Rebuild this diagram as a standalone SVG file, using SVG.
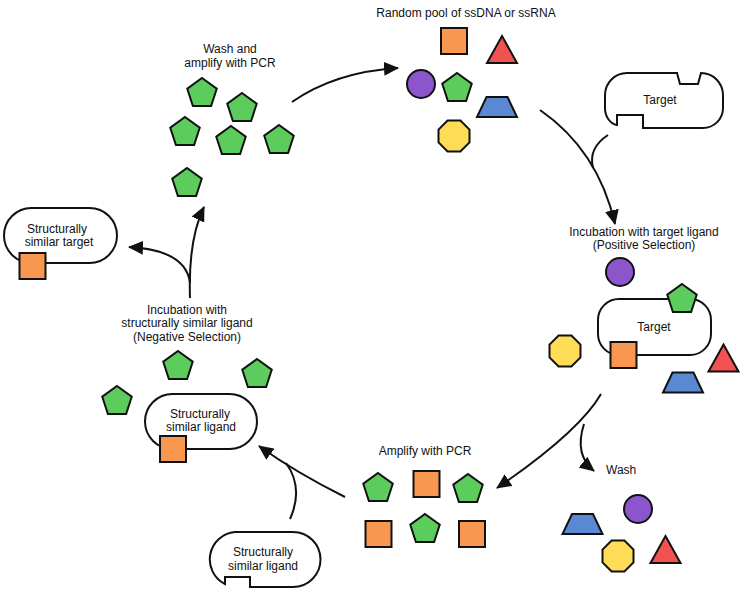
<svg xmlns="http://www.w3.org/2000/svg" xmlns:xlink="http://www.w3.org/1999/xlink" width="746" height="593" viewBox="0 0 746 593">
<style>
text{font-family:"Liberation Sans",Arial,sans-serif;font-size:12px;fill:#111;text-anchor:middle}
.sh{stroke:#111;stroke-width:2;stroke-linejoin:miter}
.box{fill:#fff;stroke:#111;stroke-width:2}
.or{fill:#F89850}.rd{fill:#F25252}.pu{fill:#8C55CC}.gr{fill:#5CCD5C}.bl{fill:#5A88D2}.ye{fill:#FFDC55}
.con{fill:none;stroke:#111;stroke-width:2}
</style>
<defs>
<path id="pent" d="M0,-14 L14.74,-3.31 L9.11,14.02 L-9.11,14.02 L-14.74,-3.31 Z"/>
<path id="oct" d="M6.4,-15.5 L15.5,-6.4 L15.5,6.4 L6.4,15.5 L-6.4,15.5 L-15.5,6.4 L-15.5,-6.4 L-6.4,-15.5 Z"/>
<path id="tri" d="M0,-13.5 L15,13.5 L-15,13.5 Z"/>
<path id="trap" d="M-10.5,-10 L10.5,-10 L20,10 L-20,10 Z"/>
<rect id="sq" x="-13" y="-13" width="26" height="26"/>
<circle id="circ" r="14"/>
<marker id="arr" markerUnits="userSpaceOnUse" markerWidth="16" markerHeight="14" refX="14" refY="7" orient="auto">
<path d="M0,0 L15,7 L0,14 Z" fill="#111"/>
</marker>
</defs>

<g id="connectors">
<path class="con" d="M292,102 Q335,72 398,68" marker-end="url(#arr)"/>
<path class="con" d="M540,110 Q598,150 615,224" marker-end="url(#arr)"/>
<path class="con" d="M608,135 Q588,148 593,168"/>
<path class="con" d="M601,394 Q579,432 497,488" marker-end="url(#arr)"/>
<path class="con" d="M584,424 Q574,455 594,471" marker-end="url(#arr)"/>
<path class="con" d="M345,497 Q295,472 259,446" marker-end="url(#arr)"/>
<path class="con" d="M290,519 Q304,488 286,463"/>
<path class="con" d="M190,298 Q188,240 204,207" marker-end="url(#arr)"/>
<path class="con" d="M190,283 Q186,250 129,247" marker-end="url(#arr)"/>
</g>

<g id="random-pool">
<text x="466" y="17">Random pool of ssDNA or ssRNA</text>
<use href="#sq" class="sh or" x="454" y="41"/>
<use href="#tri" class="sh rd" x="502" y="49.5"/>
<use href="#circ" class="sh pu" x="421" y="84"/>
<use href="#pent" class="sh gr" x="457" y="87"/>
<use href="#trap" class="sh bl" x="497" y="107"/>
<use href="#oct" class="sh ye" x="454" y="136"/>
</g>

<g id="target-top">
<path class="box" d="M627,73 L677,73 L680,84 L698,84 L701,73 A22,22 0 0 1 723,95 L723,108 A20,20 0 0 1 703,128 L643,128 L643,115 L617,115 L617,125 A14,17 0 0 1 605,108 L605,95 A22,22 0 0 1 627,73 Z"/>
<text x="660" y="104">Target</text>
</g>

<g id="positive-selection">
<text x="644" y="236">Incubation with target ligand</text>
<text x="644" y="249">(Positive Selection)</text>
<use href="#circ" class="sh pu" x="620" y="272"/>
<rect class="box" x="598" y="299" width="113" height="56" rx="21"/>
<text x="654" y="331">Target</text>
<use href="#pent" class="sh gr" x="682" y="298"/>
<use href="#oct" class="sh ye" x="565" y="351"/>
<use href="#sq" class="sh or" x="623.5" y="355"/>
<use href="#tri" class="sh rd" x="723.5" y="358"/>
<use href="#trap" class="sh bl" x="683" y="382.5"/>
</g>

<g id="wash">
<text x="606" y="474" style="text-anchor:start">Wash</text>
<use href="#circ" class="sh pu" x="638" y="509"/>
<use href="#trap" class="sh bl" x="582.5" y="524"/>
<use href="#oct" class="sh ye" x="618" y="556"/>
<use href="#tri" class="sh rd" x="665.5" y="549.5"/>
</g>

<g id="amplify">
<text x="425" y="455">Amplify with PCR</text>
<use href="#pent" class="sh gr" x="378" y="487"/>
<use href="#sq" class="sh or" x="426.5" y="484"/>
<use href="#pent" class="sh gr" x="468" y="488"/>
<use href="#sq" class="sh or" x="378.5" y="534"/>
<use href="#pent" class="sh gr" x="425" y="528"/>
<use href="#sq" class="sh or" x="472" y="534"/>
</g>

<g id="ligand-bottom">
<path class="box" d="M235,532 L293,532 A27.5,27.5 0 0 1 293,587 L250,587 L250,577 L225,577 L225,584 A27.5,27.5 0 0 1 235,532 Z"/>
<text x="263" y="556">Structurally</text>
<text x="263" y="570">similar ligand</text>
</g>

<g id="negative-selection">
<text x="187" y="314">Incubation with</text>
<text x="187" y="327">structurally similar ligand</text>
<text x="187" y="341">(Negative Selection)</text>
<use href="#pent" class="sh gr" x="178" y="365"/>
<use href="#pent" class="sh gr" x="257" y="373"/>
<use href="#pent" class="sh gr" x="117" y="400"/>
<rect class="box" x="145" y="394" width="112" height="55" rx="27.5"/>
<text x="200" y="418">Structurally</text>
<text x="201" y="431">similar ligand</text>
<use href="#sq" class="sh or" x="173" y="449"/>
</g>

<g id="similar-target">
<rect class="box" x="4" y="208" width="113" height="55" rx="27.5"/>
<text x="57" y="233">Structurally</text>
<text x="59" y="246">similar target</text>
<use href="#sq" class="sh or" x="32.5" y="266"/>
</g>

<g id="wash-amplify">
<text x="230" y="53">Wash and</text>
<text x="230" y="67">amplify with PCR</text>
<use href="#pent" class="sh gr" x="202" y="92"/>
<use href="#pent" class="sh gr" x="242" y="107"/>
<use href="#pent" class="sh gr" x="185" y="131"/>
<use href="#pent" class="sh gr" x="231" y="140"/>
<use href="#pent" class="sh gr" x="279" y="139"/>
<use href="#pent" class="sh gr" x="187" y="182"/>
</g>
</svg>
